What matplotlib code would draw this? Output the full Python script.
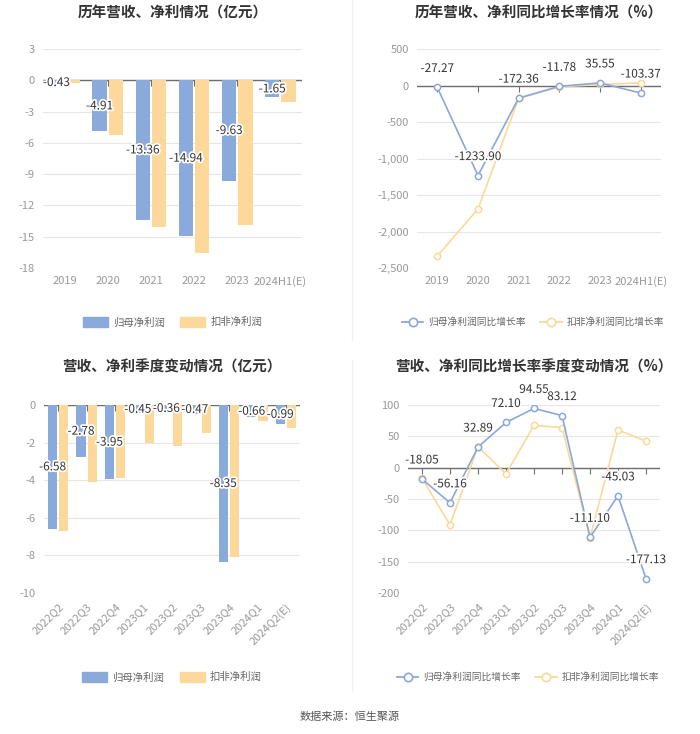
import matplotlib
matplotlib.use('Agg')
import matplotlib.pyplot as plt
import matplotlib.patheffects as pe
from matplotlib.lines import Line2D
from matplotlib.patches import Patch
import numpy as np

plt.rcParams['font.family'] = ['Noto Sans CJK SC', 'DejaVu Sans']
plt.rcParams['axes.unicode_minus'] = False

# ---- data ----
years = ['2019', '2020', '2021', '2022', '2023', '2024H1(E)']
year_net = [-0.43, -4.91, -13.36, -14.94, -9.63, -1.65]
year_deduct = [-0.22, -5.26, -14.1, -16.6, -13.9, -2.08]

year_net_growth = [-27.27, -1233.90, -172.36, -11.78, 35.55, -103.37]
year_deduct_growth = [-2336, -1691, -177, -18, 14, 36]

quarters = ['2022Q2', '2022Q3', '2022Q4', '2023Q1', '2023Q2', '2023Q3', '2023Q4', '2024Q1', '2024Q2(E)']
q_net = [-6.58, -2.78, -3.95, -0.45, -0.36, -0.47, -8.35, -0.66, -0.99]
q_deduct = [-6.69, -4.12, -3.86, -2.04, -2.18, -1.50, -8.09, -0.83, -1.24]

q_net_growth = [-18.05, -56.16, 32.89, 72.10, 94.55, 83.12, -111.10, -45.03, -177.13]
q_deduct_growth = [-17, -91.5, 33.5, -10, 67.5, 64, -111.7, 60, 42.5]

BLUE = '#8aaadc'
ORANGE = '#fdd89b'
LBLUE = '#8ba8d8'
LORANGE = '#fbd998'
GRID = '#e6e6e6'
TICK = '#999999'
TXT = '#333333'
AXIS = '#6e6e6e'

W, H = 700, 734
fig = plt.figure(figsize=(W / 100, H / 100), dpi=100)
fig.patch.set_facecolor('white')


def box(l, t, r, b):
    return [l / W, 1 - b / H, (r - l) / W, (b - t) / H]


def style(ax, yticks, fmt, rotate=False, labels=None):
    for s in ax.spines.values():
        s.set_visible(False)
    ax.set_yticks(yticks)
    ax.set_yticklabels([fmt(v) for v in yticks])
    ax.yaxis.grid(True, color=GRID, lw=0.8)
    ax.set_axisbelow(True)
    ax.tick_params(axis='y', length=0, pad=6, labelsize=8, labelcolor=TICK)
    n = len(labels)
    ax.set_xticks(range(n))
    if rotate:
        ax.set_xticklabels(labels, rotation=45, ha='right', rotation_mode='anchor')
    else:
        ax.set_xticklabels(labels)
    ax.tick_params(axis='x', length=0, pad=6, labelsize=8, labelcolor=TICK)
    ax.axhline(0, color=AXIS, lw=1, zorder=2)
    # little ticks hanging from the zero line
    ax.plot(range(n), [0] * n, ls='none', marker=3, ms=4, mew=0.8, color=AXIS, zorder=2)
    ax.set_xlim(-0.5, n - 0.5)


stroke = [pe.withStroke(linewidth=2.5, foreground='white')]


def bar_chart(rect, cats, a, b, ylim, yticks, width, off, title, title_y, leg_y, rotate=False):
    ax = fig.add_axes(box(*rect))
    x = np.arange(len(cats))
    ax.bar(x - off, a, width, color=BLUE, zorder=3)
    ax.bar(x + off, b, width, color=ORANGE, zorder=3)
    ax.set_ylim(*ylim)
    style(ax, yticks, lambda v: '%d' % v, rotate, cats)
    for i, v in enumerate(a):
        ax.text(i - off, v / 2, '%.2f' % v, ha='center', va='center', fontsize=8.5,
                color=TXT, path_effects=stroke, zorder=5)
    cx = (rect[0] + rect[2]) / 2
    fig.text(cx / W, 1 - title_y / H, title, ha='center', va='center',
             fontsize=10.5, fontweight='bold', color=TXT)
    handles = [Patch(color=BLUE), Patch(color=ORANGE)]
    fig.legend(handles, ['归母净利润', '扣非净利润'], loc='center',
               bbox_to_anchor=(cx / W, 1 - leg_y / H), ncol=2, frameon=False,
               fontsize=7.5, labelcolor='#666666', handlelength=2.4, handleheight=1.2,
               columnspacing=1.5, handletextpad=0.5)
    return ax


def line_chart(rect, cats, a, b, ylim, yticks, fmt, title, title_y, leg_y, rotate=False):
    ax = fig.add_axes(box(*rect))
    x = np.arange(len(cats))
    ax.plot(x, b, color=LORANGE, lw=1.2, marker='o', ms=4.5, mfc='white',
            mec=LORANGE, mew=1.1, zorder=3)
    ax.plot(x, a, color=LBLUE, lw=1.2, marker='o', ms=4.5, mfc='white',
            mec=LBLUE, mew=1.1, zorder=4)
    ax.set_ylim(*ylim)
    style(ax, yticks, fmt, rotate, cats)
    for i, v in enumerate(a):
        ax.annotate('%.2f' % v, (i, v), xytext=(0, 9), textcoords='offset points',
                    ha='center', va='bottom', fontsize=8.5, color=TXT,
                    path_effects=stroke, zorder=6, annotation_clip=False)
    cx = (rect[0] + rect[2]) / 2
    fig.text(cx / W, 1 - title_y / H, title, ha='center', va='center',
             fontsize=10.5, fontweight='bold', color=TXT)
    handles = [Line2D([], [], color=LBLUE, lw=1.3, marker='o', ms=6, mfc='white', mec=LBLUE, mew=1.2),
               Line2D([], [], color=LORANGE, lw=1.3, marker='o', ms=6, mfc='white', mec=LORANGE, mew=1.2)]
    fig.legend(handles, ['归母净利润同比增长率', '扣非净利润同比增长率'], loc='center',
               bbox_to_anchor=((cx - 6) / W, 1 - leg_y / H), ncol=2, frameon=False,
               fontsize=7, labelcolor='#666666', handlelength=2.2,
               columnspacing=1.5, handletextpad=0.5)
    return ax


bar_chart((43, 49, 302, 268), years, year_net, year_deduct, (-18, 3),
          np.arange(-18, 4, 3), 0.33, 0.19, '历年营收、净利情况（亿元）', 13, 322)

line_chart((417, 49, 661, 268), years, year_net_growth, year_deduct_growth, (-2500, 500),
           np.arange(-2500, 501, 500), lambda v: '{:,}'.format(int(v)),
           '历年营收、净利同比增长率情况（%）', 13, 322)

bar_chart((44, 405, 300, 593), quarters, q_net, q_deduct, (-10, 0),
          np.arange(-10, 1, 2), 0.32, 0.2, '营收、净利季度变动情况（亿元）', 367, 677, rotate=True)

line_chart((408, 405, 660, 593), quarters, q_net_growth, q_deduct_growth, (-200, 100),
           np.arange(-200, 101, 50), lambda v: '%d' % v,
           '营收、净利同比增长率季度变动情况（%）', 367, 677, rotate=True)

# divider
fig.add_artist(Line2D([352 / W, 352 / W], [1 - 0 / H, 1 - 340 / H], color='#f0f0f0', lw=1))
fig.add_artist(Line2D([352 / W, 352 / W], [1 - 360 / H, 1 - 690 / H], color='#f0f0f0', lw=1))

fig.text(0.5, 1 - 717 / H, '数据来源：恒生聚源', ha='center', va='center', fontsize=8, color='#555555')

fig.savefig('out.png', dpi=100, facecolor='white')
